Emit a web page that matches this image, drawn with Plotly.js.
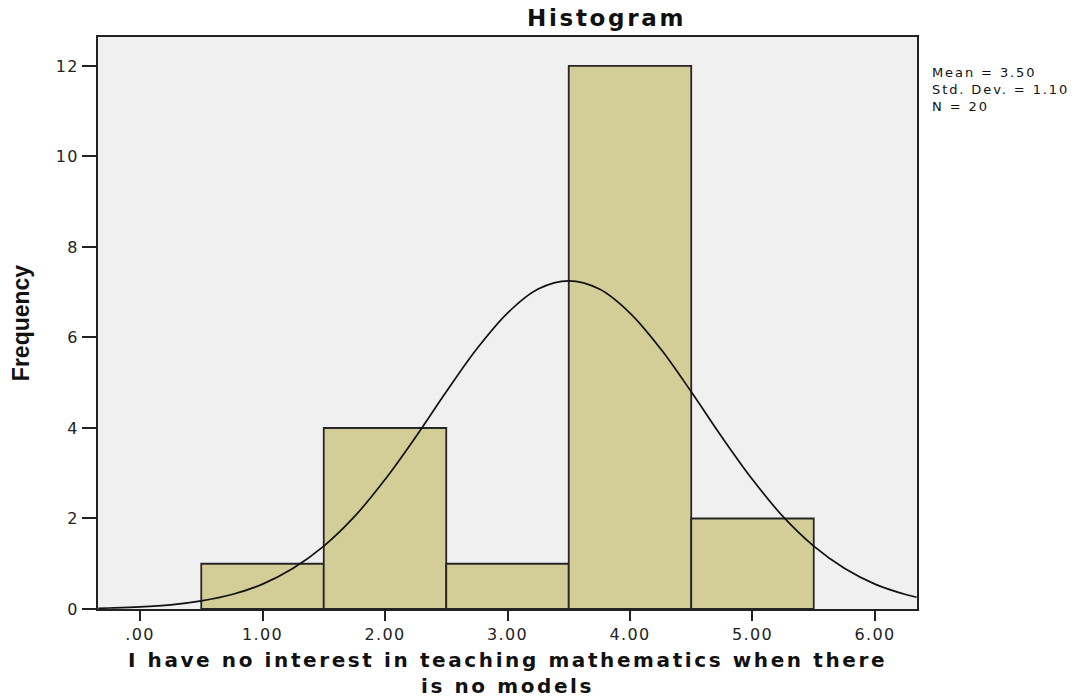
<!DOCTYPE html>
<html><head><meta charset="utf-8">
<script src="https://cdn.plot.ly/plotly-3.0.1.min.js"></script>
<style>
body { margin: 0; background: #fff; }
#chart { width: 1091px; height: 698px; }
/* the reference text is drawn wide, so widen it a little */
#chart .xtick text, #chart .ytick text { letter-spacing: 1.3px; }
#chart .gtitle { letter-spacing: 2.7px; }
#chart .g-xtitle text { letter-spacing: 2.6px; }
#chart .annotation-text { letter-spacing: 1.9px; }
</style></head><body>
<div id="chart"></div>
<script>
// histogram bins (centres) and counts
const binCentres = [1, 2, 3, 4, 5];
const counts = [1, 4, 1, 12, 2];

// normal curve
const curveX = [-0.34, -0.25, 0, 0.25, 0.5, 0.75, 1, 1.25, 1.5, 1.75, 2, 2.25, 2.5, 2.75, 3, 3.25,
    3.5, 3.75, 4, 4.25, 4.5, 4.75, 5, 5.25, 5.5, 5.75, 6, 6.25, 6.34];
const curveY = [0.016, 0.022, 0.046, 0.092, 0.18, 0.32, 0.55, 0.90, 1.39, 2.04, 2.86, 3.80, 4.80, 5.75, 6.54, 7.07,
    7.25, 7.07, 6.54, 5.75, 4.80, 3.80, 2.86, 2.04, 1.39, 0.90, 0.55, 0.32, 0.26];

const xTicks = [0, 1, 2, 3, 4, 5, 6];
const xTickText = ['.00', '1.00', '2.00', '3.00', '4.00', '5.00', '6.00'];
const yTicks = [0, 2, 4, 6, 8, 10, 12];

const statsText = 'Mean = 3.50<br>Std. Dev. = 1.10<br>N = 20';

const tickFont = { family: 'DejaVu Sans, Verdana, sans-serif', size: 16, color: '#222' };

Plotly.newPlot('chart', [
    {
        type: 'bar', x: binCentres, y: counts, width: 1,
        marker: { color: '#d3cd97', line: { color: '#262626', width: 1.8 } },
        hoverinfo: 'x+y'
    },
    {
        type: 'scatter', mode: 'lines', x: curveX, y: curveY,
        line: { color: '#111', width: 1.7, shape: 'spline', smoothing: 1 },
        hoverinfo: 'skip'
    }
], {
    width: 1091, height: 698,
    margin: { l: 98, r: 174, t: 37, b: 89 },
    paper_bgcolor: '#fff',
    plot_bgcolor: '#f0f0f0',
    showlegend: false,
    bargap: 0,
    title: {
        text: '<b>Histogram</b>',
        font: { family: 'DejaVu Sans, Verdana, sans-serif', size: 23, color: '#111' },
        xref: 'paper', x: 0.621, xanchor: 'center',
        yref: 'container', y: 0.974, yanchor: 'middle'
    },
    xaxis: {
        range: [-0.343, 6.343],
        tickvals: xTicks, ticktext: xTickText,
        ticks: 'outside', ticklen: 10, tickwidth: 2, tickcolor: '#222',
        tickfont: tickFont,
        showgrid: false, zeroline: false,
        showline: true, linecolor: '#222', linewidth: 2, mirror: true,
        title: {
            text: '<b>I have no interest in teaching mathematics when there<br>is no models</b>',
            font: { family: 'DejaVu Sans, Verdana, sans-serif', size: 20, color: '#111' },
            standoff: 12
        }
    },
    yaxis: {
        range: [0, 12.64],
        tickvals: yTicks,
        ticks: 'outside', ticklen: 14, tickwidth: 2, tickcolor: '#222',
        tickfont: tickFont,
        showgrid: false, zeroline: false,
        showline: true, linecolor: '#222', linewidth: 2, mirror: true,
        title: {
            text: '<b>Frequency</b>',
            font: { family: 'Liberation Sans, Arial, sans-serif', size: 23, color: '#111' },
            standoff: 22
        }
    },
    annotations: [{
        text: statsText, showarrow: false, align: 'left',
        xref: 'paper', yref: 'paper', x: 1.016, y: 0.955,
        xanchor: 'left', yanchor: 'top',
        font: { family: 'DejaVu Sans, Verdana, sans-serif', size: 13, color: '#111' }
    }]
}, { displayModeBar: false, staticPlot: true });
</script>
</body></html>
